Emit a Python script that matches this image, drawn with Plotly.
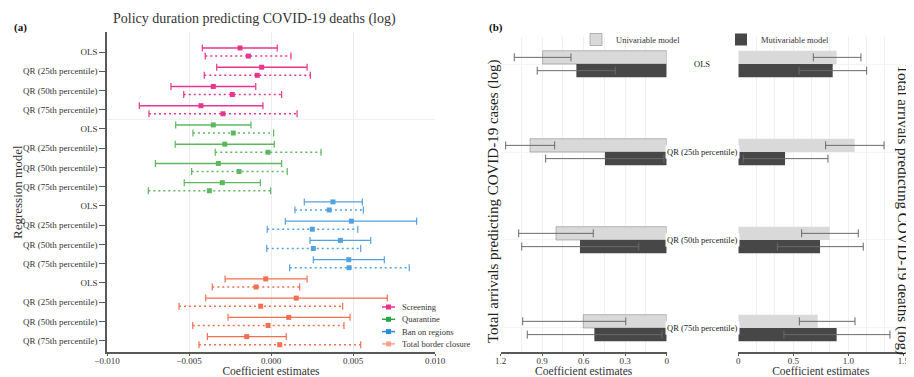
import plotly.graph_objects as go

# The page body adds an 8px margin; the figure is sized to fill the rest of the 914x377 window.
PAGE_OFF = 8
W, H = 914 - PAGE_OFF, 377 - PAGE_OFF


def px(x):
    return (x - PAGE_OFF) / W


def py(y):
    return 1 - (y - PAGE_OFF) / H


SERIF = "Liberation Serif"
TXT = "#333333"
AX = "#595959"

# ---------------- Panel (a) data ----------------
policies = ["Screening", "Quarantine", "Ban on regions", "Total border closure"]
models = ["OLS", "QR (25th percentile)", "QR (50th percentile)", "QR (75th percentile)"]
line_colors = ["#e8358f", "#5cb85f", "#52a2de", "#f2704f"]
legend_colors = ["#e8308c", "#22a745", "#2a8ae0", "#fca385"]

# solid specification (policy-major, 4 models each)
solid_coef = [-0.00189, -0.00057, -0.00352, -0.00427,
              -0.00352, -0.00282, -0.00321, -0.00297,
              0.00378, 0.00490, 0.00423, 0.00474,
              -0.00032, 0.00154, 0.00108, -0.00148]
solid_lo = [-0.00419, -0.00331, -0.00610, -0.00803,
            -0.00581, -0.00584, -0.00705, -0.00529,
            0.00203, 0.00087, 0.00238, 0.00258,
            -0.00280, -0.00398, -0.00262, -0.00388]
solid_hi = [0.00038, 0.00220, -0.00093, -0.00049,
            -0.00122, 0.00020, 0.00065, -0.00065,
            0.00557, 0.00888, 0.00608, 0.00691,
            0.00220, 0.00709, 0.00482, 0.00093]
# dotted specification
dotted_coef = [-0.00138, -0.00084, -0.00236, -0.00293,
               -0.00230, -0.00018, -0.00195, -0.00376,
               0.00355, 0.00252, 0.00258, 0.00476,
               -0.00091, -0.00063, -0.00018, 0.00053]
dotted_lo = [-0.00401, -0.00407, -0.00532, -0.00744,
             -0.00476, -0.00340, -0.00484, -0.00748,
             0.00146, -0.00023, -0.00026, 0.00114,
             -0.00358, -0.00561, -0.00477, -0.00439]
dotted_hi = [0.00122, 0.00240, 0.00065, 0.00159,
             0.00016, 0.00305, 0.00099, -0.00002,
             0.00563, 0.00529, 0.00547, 0.00843,
             0.00175, 0.00437, 0.00445, 0.00547]

# ---------------- Panel (b) data ----------------
cases_uni = [0.897, 0.988, 0.800, 0.603]
cases_uni_lo = [0.692, 0.810, 0.531, 0.296]
cases_uni_hi = [1.102, 1.164, 1.070, 1.041]
cases_multi = [0.653, 0.446, 0.627, 0.523]
cases_multi_lo = [0.372, 0.020, 0.202, 0.034]
cases_multi_hi = [0.936, 0.875, 1.048, 1.008]
deaths_uni = [0.894, 1.058, 0.831, 0.722]
deaths_uni_lo = [0.682, 0.794, 0.576, 0.555]
deaths_uni_hi = [1.115, 1.325, 1.091, 1.061]
deaths_multi = [0.858, 0.425, 0.743, 0.894]
deaths_multi_lo = [0.552, 0.045, 0.355, 0.415]
deaths_multi_hi = [1.167, 0.815, 1.136, 1.379]

fig = go.Figure()

# ---------------- Panel (a) traces ----------------
n_m = len(models)
row_labels = models * len(policies)
OFF = 0.21
specs = [
    (solid_coef, solid_lo, solid_hi, "solid", -OFF),
    (dotted_coef, dotted_lo, dotted_hi, "2px,3px", OFF),
]
for k, pol in enumerate(policies):
    col = line_colors[k]
    idx = list(range(k * n_m, (k + 1) * n_m))
    for coef, lo, hi, dash, off in specs:
        xs, ys = [], []
        for i in idx:
            xs += [lo[i], hi[i], None]
            ys += [i + off, i + off, None]
        fig.add_trace(go.Scatter(
            x=xs, y=ys, mode="lines+markers", xaxis="x", yaxis="y",
            line=dict(color=col, width=1.4, dash=dash),
            marker=dict(symbol="line-ns-open", size=5, color=col,
                        line=dict(width=1.2, color=col)),
            showlegend=False, hoverinfo="skip", name=pol))
        fig.add_trace(go.Scatter(
            x=[coef[i] for i in idx], y=[i + off for i in idx],
            mode="markers", xaxis="x", yaxis="y",
            marker=dict(symbol="square", size=5, color=col),
            showlegend=False, name=pol))

# ---------------- Panel (b) traces ----------------
def err(v, lo, hi):
    return dict(type="data", symmetric=False,
                array=[h - a for a, h in zip(v, hi)],
                arrayminus=[a - l for a, l in zip(v, lo)],
                color="#6a6a6a", thickness=1, width=4)


UNI = "#d9d9d9"
MULTI = "#474747"
fig.add_trace(go.Bar(y=models, x=cases_uni, orientation="h", xaxis="x2", yaxis="y2",
                     marker=dict(color=UNI, line=dict(width=0.6, color="#8a8a8a")),
                     error_x=err(cases_uni, cases_uni_lo, cases_uni_hi),
                     name="Univariable model", legend="legend2"))
fig.add_trace(go.Bar(y=models, x=cases_multi, orientation="h", xaxis="x2", yaxis="y2",
                     marker=dict(color=MULTI, line=dict(width=0)),
                     error_x=err(cases_multi, cases_multi_lo, cases_multi_hi),
                     name="Mutivariable model", legend="legend2"))
fig.add_trace(go.Bar(y=models, x=deaths_uni, orientation="h", xaxis="x3", yaxis="y2",
                     marker=dict(color=UNI, line=dict(width=0)),
                     error_x=err(deaths_uni, deaths_uni_lo, deaths_uni_hi),
                     name="Univariable model", showlegend=False))
fig.add_trace(go.Bar(y=models, x=deaths_multi, orientation="h", xaxis="x3", yaxis="y2",
                     marker=dict(color=MULTI, line=dict(width=0)),
                     error_x=err(deaths_multi, deaths_multi_lo, deaths_multi_hi),
                     name="Mutivariable model", showlegend=False))

tickfont = dict(family=SERIF, size=9, color=TXT)
titlefont = dict(family=SERIF, size=11.5, color=TXT)

common_x = dict(zeroline=False, showline=True, linecolor=AX, linewidth=1.5,
                ticks="outside", ticklen=2, tickcolor=AX, tickfont=tickfont,
                ticklabelstandoff=-3, automargin=False)

fig.update_layout(
    template="none",
    width=W, height=H, autosize=False,
    margin=dict(l=0, r=0, t=0, b=0, pad=0),
    paper_bgcolor="white", plot_bgcolor="white",
    font=dict(family=SERIF, color=TXT),
    barmode="group", bargap=0.698, bargroupgap=0,
    showlegend=True,
    legend2=dict(orientation="h", x=px(576), xanchor="left", y=py(25), yanchor="top",
                 font=dict(family=SERIF, size=8.5, color=TXT), bgcolor="rgba(0,0,0,0)",
                 entrywidth=100, entrywidthmode="pixels", itemclick=False,
                 itemdoubleclick=False),
    xaxis=dict(domain=[px(107), px(435)], anchor="y", range=[-0.010, 0.010],
               tick0=0, dtick=0.005, tickformat=".3f",
               showgrid=True, gridcolor="#ececec", gridwidth=1,
               title=dict(text="Coefficient estimates", font=titlefont, standoff=3),
               **common_x),
    yaxis=dict(domain=[py(352), py(32)], anchor="x",
               range=[len(row_labels) - 1 + 0.59, -1.04],
               tickmode="array", tickvals=list(range(len(row_labels))), ticktext=row_labels,
               showgrid=False, zeroline=False, showline=True, linecolor=AX, linewidth=1.5,
               ticks="outside", ticklen=6, tickcolor=AX, tickfont=tickfont, automargin=False),
    xaxis2=dict(domain=[px(500.7), px(666.7)], anchor="y2", range=[1.2, 0], dtick=0.3, tick0=0,
                showgrid=True, gridcolor="#f0f0f0",
                minor=dict(dtick=0.15, tick0=0, showgrid=True, gridcolor="#f0f0f0"),
                title=dict(text="Coefficient estimates", font=titlefont, standoff=3),
                **common_x),
    xaxis3=dict(domain=[px(738.3), px(903.3)], anchor="y2", range=[0, 1.5],
                tickmode="array", tickvals=[0, 0.5, 1.0, 1.5], ticktext=["0", "0.5", "1.0", "1.5"],
                showgrid=True, gridcolor="#f0f0f0",
                minor=dict(dtick=1 / 6, tick0=0, showgrid=True, gridcolor="#f0f0f0"),
                title=dict(text="Coefficient estimates", font=titlefont, standoff=3),
                **common_x),
    yaxis2=dict(domain=[py(352), py(37)], anchor="x2", type="category",
                categoryorder="array", categoryarray=models,
                range=[3.273, -0.307], showticklabels=False, ticks="",
                showgrid=True, gridcolor="#f3f3f3", zeroline=False, showline=False,
                automargin=False),
)

# separator between first and second policy block
fig.add_shape(type="line", xref="x domain", x0=0, x1=1, yref="y",
              y0=n_m - 0.5, y1=n_m - 0.5, line=dict(color="#efefef", width=1), layer="below")

# manual legend for panel (a)
leg_x0, leg_y0, leg_dy = 382, 307, 12.3
for k, pol in enumerate(policies):
    yy = leg_y0 + k * leg_dy
    c = legend_colors[k]
    fig.add_shape(type="line", xref="paper", yref="paper", x0=px(leg_x0), x1=px(leg_x0 + 13),
                  y0=py(yy), y1=py(yy), line=dict(color=c, width=1.5))
    fig.add_shape(type="rect", xref="paper", yref="paper", x0=px(leg_x0 + 4), x1=px(leg_x0 + 9),
                  y0=py(yy - 2.5), y1=py(yy + 2.5), line=dict(width=0), fillcolor=c)
    fig.add_annotation(text=pol, xref="paper", yref="paper", x=px(leg_x0 + 18), y=py(yy),
                       xanchor="left", yanchor="middle", showarrow=False,
                       font=dict(family=SERIF, size=8.5, color=TXT))

# panel (b) category labels between the two bar panels
for m in models:
    fig.add_annotation(text=m, xref="paper", yref="y2", x=px(702), y=m, showarrow=False,
                       xanchor="center", yanchor="middle", bgcolor="white", borderpad=1,
                       font=dict(family=SERIF, size=8.5, color="#222"))

# titles and panel labels
fig.add_annotation(text="Policy duration predicting COVID-19 deaths (log)", xref="paper", yref="paper",
                   x=px(254), y=py(19), showarrow=False, xanchor="center", yanchor="middle",
                   font=dict(family=SERIF, size=14, color=TXT))
fig.add_annotation(text="Regression model", xref="paper", yref="paper",
                   x=px(17), y=py(192), showarrow=False, textangle=-90,
                   xanchor="center", yanchor="middle",
                   font=dict(family=SERIF, size=13, color=TXT))
fig.add_annotation(text="<b>(a)</b>", xref="paper", yref="paper", x=px(12), y=py(28),
                   showarrow=False, xanchor="left", yanchor="middle",
                   font=dict(family=SERIF, size=11, color="#111"))
fig.add_annotation(text="<b>(b)</b>", xref="paper", yref="paper", x=px(487), y=py(28),
                   showarrow=False, xanchor="left", yanchor="middle",
                   font=dict(family=SERIF, size=11, color="#111"))
fig.add_annotation(text="Total arrivals predicting COVID-19 cases (log)", xref="paper", yref="paper",
                   x=px(494), y=py(201), showarrow=False, textangle=-90,
                   xanchor="center", yanchor="middle",
                   font=dict(family=SERIF, size=15, color="#222"))
fig.add_annotation(text="Total arrivals predicting COVID-19 deaths (log)", xref="paper", yref="paper",
                   x=px(903), y=py(210), showarrow=False, textangle=90,
                   xanchor="center", yanchor="middle",
                   font=dict(family=SERIF, size=15, color="#222"))

fig.write_html("out.html")
